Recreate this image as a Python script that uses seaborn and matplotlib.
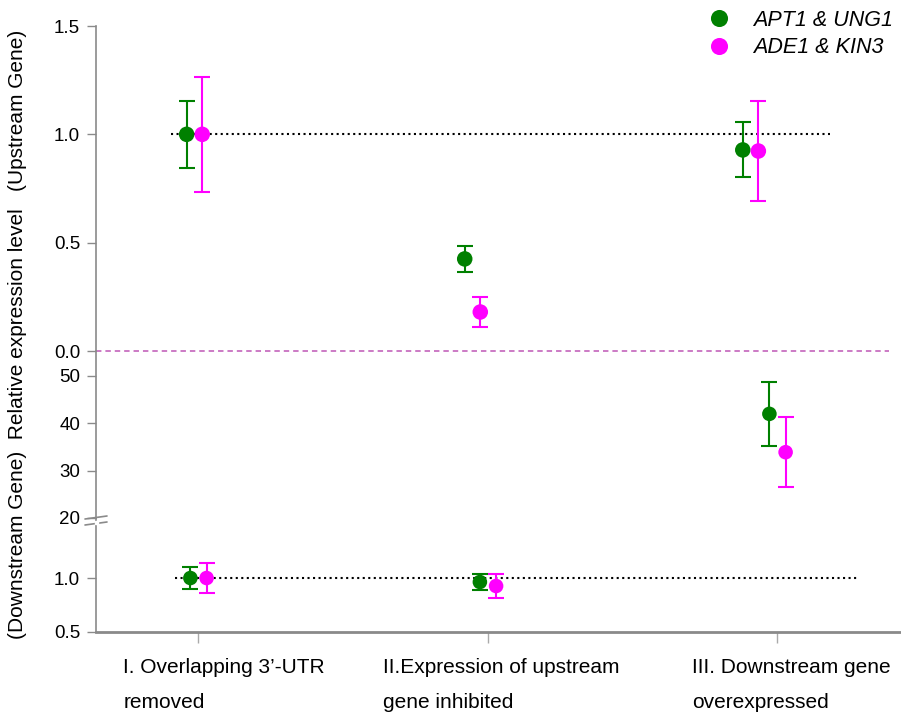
"""
Relative expression of upstream / downstream genes in three conditions
(broken y-axis: upstream panel on top, downstream panel split 20-55 / 0.5-1.55)
"""

import pandas as pd
import numpy as np
import matplotlib
matplotlib.use("Agg")
import matplotlib.pyplot as plt
import matplotlib.transforms as mtransforms
from matplotlib.lines import Line2D
import seaborn as sns

sns.set_style("white")
plt.rcParams["font.family"] = ["Liberation Sans", "DejaVu Sans"]
plt.rcParams["text.color"] = "black"
plt.rcParams["xtick.labelcolor"] = "black"
plt.rcParams["ytick.labelcolor"] = "black"

# ─────────────────────────────────────────────
# DATA
# ─────────────────────────────────────────────
categories = ["I. Overlapping 3\u2019-UTR\nremoved",
              "II.Expression of upstream\ngene inhibited",
              "III. Downstream gene\noverexpressed"]
pairs = ["APT1 & UNG1", "ADE1 & KIN3"]
colors = ["#008000", "#ff00ff"]

up_apt     = [1.00, 0.425, 0.928]
up_apt_err = [0.155, 0.060, 0.127]
up_ade     = [1.00, 0.180, 0.923]
up_ade_err = [0.265, 0.070, 0.230]

down_apt     = [1.00, 0.963, 42.0]
down_apt_err = [0.100, 0.074, 6.7]
down_ade     = [1.00, 0.926, 33.9]
down_ade_err = [0.135, 0.110, 7.4]

up_ticks   = [0.0, 0.5, 1.0, 1.5]
mid_ticks  = [20, 30, 40, 50]
low_ticks  = [0.5, 1.0]


def make_frame(vals_a, err_a, vals_b, err_b):
    rows = []
    for i, cat in enumerate(categories):
        rows.append({"cat": i, "pair": pairs[0], "value": vals_a[i], "err": err_a[i]})
        rows.append({"cat": i, "pair": pairs[1], "value": vals_b[i], "err": err_b[i]})
    df = pd.DataFrame(rows)
    df["x"] = df["cat"] + np.where(df["pair"] == pairs[0], -0.028, 0.028)
    return df


up_df   = make_frame(up_apt, up_apt_err, up_ade, up_ade_err)
down_df = make_frame(down_apt, down_apt_err, down_ade, down_ade_err)
palette = dict(zip(pairs, colors))

# ─────────────────────────────────────────────
# FIGURE / AXES LAYOUT
# ─────────────────────────────────────────────
W, H = 901, 716
fig = plt.figure(figsize=(W / 100, H / 100), dpi=100)
L = 96 / W
ax_up  = fig.add_axes([L, 1 - 351 / H, 1 - L, 325 / H])
ax_mid = fig.add_axes([L, 1 - 518 / H, 1 - L, 167 / H])
ax_low = fig.add_axes([L, 1 - 632 / H, 1 - L, 114 / H])

spine_col = "#8a8a8a"


def draw_panel(ax, df, size, legend=False):
    for _, r in df.iterrows():
        ax.errorbar(r["x"], r["value"], yerr=r["err"], fmt="none",
                    ecolor=palette[r["pair"]], elinewidth=1.5, capsize=6,
                    capthick=1.5, zorder=2)
    sns.scatterplot(data=df, x="x", y="value", hue="pair", palette=palette,
                    s=size, linewidth=0, ax=ax, legend=legend, zorder=3)
    for side in ["top", "right", "bottom"]:
        ax.spines[side].set_visible(False)
    ax.spines["left"].set_color(spine_col)
    ax.spines["left"].set_linewidth(1.2)
    ax.tick_params(axis="y", direction="out", length=6.5, width=1,
                   color=spine_col, labelsize=13.5, pad=5, left=True)
    ax.tick_params(axis="x", bottom=False, labelbottom=False)
    ax.set_xlabel("")
    ax.set_ylabel("")
    ax.patch.set_alpha(0)


# upstream panel
draw_panel(ax_up, up_df, 125, legend=True)
ax_up.set_xlim(-0.354, 2.541)
ax_up.set_ylim(0, 1.5)
ax_up.set_yticks(up_ticks)
ax_up.set_yticklabels([f"{t:.1f}" for t in up_ticks])
ax_up.hlines(1.0, -0.085, 2.285, colors="black", linestyles=":", linewidth=1.5, zorder=1)
ax_up.axhline(0.0, xmin=0, xmax=0.985, color="#c86fc0", linestyle=(0, (3, 2.2)),
              linewidth=1.3, zorder=1, clip_on=False)

# downstream, high range
draw_panel(ax_mid, down_df, 110)
ax_mid.set_xlim(-0.354, 2.4266)
ax_mid.set_ylim(20, 55.28)
ax_mid.set_yticks(mid_ticks)

# downstream, low range
draw_panel(ax_low, down_df, 110)
ax_low.set_xlim(-0.354, 2.4266)
ax_low.set_ylim(0.5, 1.556)
ax_low.set_yticks(low_ticks)
ax_low.set_yticklabels([f"{t:.1f}" for t in low_ticks])
ax_low.hlines(1.0, -0.081, 2.278, colors="black", linestyles=":", linewidth=1.5, zorder=1)
ax_low.spines["bottom"].set_visible(True)
ax_low.spines["bottom"].set_color(spine_col)
ax_low.spines["bottom"].set_linewidth(2)
ax_low.set_xticks(range(len(categories)))
ax_low.set_xticklabels(categories, fontsize=15, linespacing=2.05,
                       ha="left", multialignment="left")
ax_low.tick_params(axis="x", bottom=True, labelbottom=True, direction="out",
                   length=8, width=1, color="#aaaaaa", pad=11)
label_shift = [-75, -105, -85]   # px, left edge of each label vs its tick
for lab, dx in zip(ax_low.get_xticklabels(), label_shift):
    lab.set_transform(lab.get_transform() +
                      mtransforms.ScaledTranslation(dx / 100, 0, fig.dpi_scale_trans))

# axis-break marks at 20
for dy in (0, 6):
    y0 = 1 - (519 + dy) / H
    fig.add_artist(Line2D([85 / W, 107 / W], [y0, y0 + 3 / H], color=spine_col,
                          linewidth=1.2))
fig.add_artist(plt.Polygon([[95 / W, 1 - 520.5 / H], [97.5 / W, 1 - 520.5 / H],
                            [97.5 / W, 1 - 523.5 / H], [95 / W, 1 - 523.5 / H]],
                           closed=True, color="white", zorder=5))

# legend
sns.move_legend(ax_up, "upper left", bbox_to_anchor=(708 / W, 1 - 10 / H),
                bbox_transform=fig.transFigure, frameon=False, title=None,
                prop={"size": 15.5, "style": "italic"}, borderpad=0,
                borderaxespad=0, handlelength=1.0, handletextpad=1.1,
                labelspacing=0.3, markerscale=1.1)

fig.text(18 / W, 1 - 334 / H,
         "(Downstream Gene)  Relative expression level   (Upstream Gene)",
         rotation=90, ha="center", va="center", fontsize=15)

plt.savefig("out.png", dpi=100)
plt.close()
